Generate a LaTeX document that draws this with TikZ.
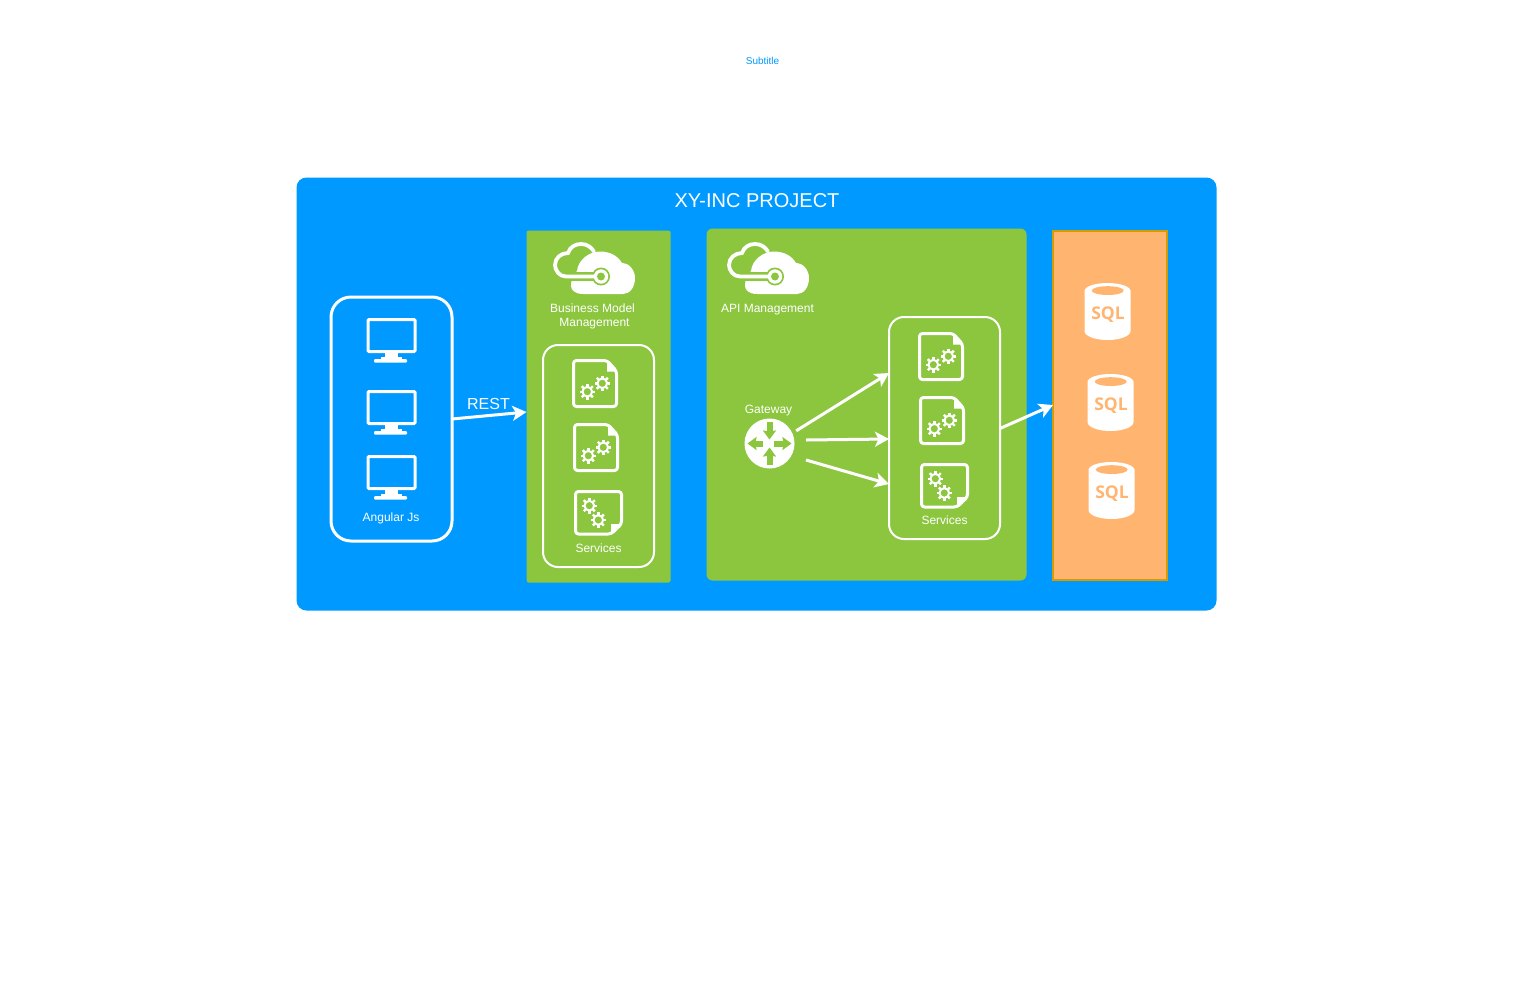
\documentclass[tikz,border=0pt]{standalone}
\usepackage{fontspec}
\setmainfont{Liberation Sans}
\newfontfamily\sqlfont{Open Sans}
\usetikzlibrary{arrows.meta}
\definecolor{xyblue}{HTML}{0099FF}
\definecolor{xygreen}{HTML}{8CC63F}
\definecolor{xyorange}{HTML}{FFB570}
\definecolor{xyedge}{HTML}{D79B00}
\tikzset{
  panel/.style={rectangle,outer sep=0pt,inner sep=0pt,anchor=north west},
  txt/.style={text=white,inner sep=0pt,align=center,font=\fontsize{12}{14}\selectfont},
  flow/.style={white,line width=3pt,-{Stealth[length=14pt,width=15pt,inset=3.5pt]},shorten >=0pt},
  wbox/.style={panel,draw=white,fill=none},
}
\newcommand{\xygear}[2]{%
  \begin{scope}[shift={(#1,#2)}]
    \draw[white,line width=2pt] (0,0) circle[radius=4.8];
    \foreach \a in {0,45,...,315}{\draw[white,line width=2.4pt] (\a:5.2) -- (\a:7.8);}
  \end{scope}}
\newcommand{\xydocA}[2]{%
  \begin{scope}[shift={(#1,#2)}]
    \draw[white,line width=3pt,rounded corners=3pt,line join=round] (1.5,1.5) -- (35,1.5) -- (44.5,12) -- (44.5,47.5) -- (1.5,47.5) -- cycle;
    \fill[white] (35,1.5) -- (45,12.5) -- (35,12.5) -- cycle;
    \xygear{15.3}{32.7}\xygear{30.3}{24.3}
  \end{scope}}
\newcommand{\xydocB}[2]{%
  \begin{scope}[shift={(#1,#2)}]
    \draw[white,line width=3pt,rounded corners=3pt,line join=round] (1.5,1.5) -- (47.5,1.5) -- (47.5,34) -- (37,44) -- (1.5,44) -- cycle;
    \fill[white] (47.5,34) -- (37,44.5) -- (37,34) -- cycle;
    \xygear{15.3}{15.7}\xygear{24.3}{30}
  \end{scope}}
\newcommand{\xyscreen}[2]{%
  \begin{scope}[shift={(#1,#2)}]
    \draw[white,line width=3pt,rounded corners=1pt] (1.5,1.5) rectangle (48.5,33.5);
    \fill[white] (18,34) rectangle (31,40);
    \fill[white,rounded corners=1pt] (7.5,41) rectangle (40.5,44.5);
    \fill[white] (14,38.5) rectangle (35,41.5);
  \end{scope}}
\newcommand{\xycloud}[2]{%
  \begin{scope}[shift={(#1,#2)}]
    \fill[white] (30.3,52) .. controls (22,52) and (18,48) .. (18,44)
      .. controls (18,37) and (20,33) .. (24,29)
      .. controls (25,18) and (36,9.5) .. (47,9.5)
      .. controls (57,9.5) and (65,14) .. (68.7,20.7)
      .. controls (76,21) and (82,28) .. (82,36)
      .. controls (82,45) and (77,52) .. (70,52) -- cycle;
    \draw[xygreen,line width=8.5pt] (15,34.5) -- (48,34.5);
    \fill[xygreen] (48,34.5) circle[radius=9];
    \draw[white,line width=3.8pt,line cap=round] (48,34.5) -- (13,34.5)
      .. controls (6,34.5) and (2,28) .. (2,23)
      .. controls (2,16) and (8,11) .. (15,11)
      .. controls (17,5) and (22,2) .. (28,2)
      .. controls (34,2) and (38,5) .. (41,9.5);
    \fill[white] (48,34.5) circle[radius=7.2];
    \fill[xygreen] (48,34.5) circle[radius=4];
  \end{scope}}
\newcommand{\xydb}[2]{%
  \begin{scope}[shift={(#1,#2)}]
    \fill[white] (0,8) arc[start angle=180,end angle=360,x radius=23,y radius=8]
      -- (46,48) arc[start angle=0,end angle=180,x radius=23,y radius=9] -- cycle;
    \fill[xyorange] (23.2,7.6) ellipse[x radius=16,y radius=4.4];
    \node[inner sep=0pt,text=xyorange,font=\sqlfont\bfseries\fontsize{17.5}{17.5}\selectfont] (sql#1) at (23.5,32) {SQL};
  \end{scope}}
\begin{document}
\begin{tikzpicture}[x=1pt,y=-1pt]
\useasboundingbox (0,0) rectangle (1528,983);
\fill[white] (0,0) rectangle (1528,983);
\node[inner sep=0pt,text=xyblue,font=\fontsize{10}{12}\selectfont] (subtitle) at (762.5,60.5) {Subtitle};
\node[panel,fill=xyblue,rounded corners=10pt,minimum width=920pt,minimum height=433pt] (main) at (296.5,177.5) {};
\node[txt,font=\fontsize{20}{24}\selectfont] (title) at (757,201) {XY-INC PROJECT};
% panels
\node[panel,fill=xygreen,rounded corners=2pt,minimum width=144pt,minimum height=352pt] (bmm) at (526.5,230.5) {};
\node[panel,fill=xygreen,rounded corners=6pt,minimum width=320pt,minimum height=352pt] (api) at (706.5,228.5) {};
\node[panel,fill=xyorange,draw=xyedge,line width=1.6pt,minimum width=114pt,minimum height=349pt] (db) at (1053,231) {};
\node[wbox,line width=3pt,rounded corners=20pt,minimum width=121pt,minimum height=244pt] (angular) at (331,297) {};
\node[wbox,line width=2pt,rounded corners=15pt,minimum width=111pt,minimum height=222pt] (svcb) at (543,345) {};
\node[wbox,line width=2pt,rounded corners=15pt,minimum width=111pt,minimum height=222pt] (svca) at (889,317) {};
% screens
\xyscreen{366.5}{318}\xyscreen{366.5}{390}\xyscreen{366.5}{455}
\node[txt] (angtxt) at (391,518) {Angular Js};
% clouds
\xycloud{553}{242}\xycloud{727}{242}
\node[txt] (bmmtxt) at (592.5,316) {Business Model\\\hspace*{4pt}Management};
\node[txt] (apitxt) at (767.5,309.5) {API Management};
% documents
\xydocA{572}{359}\xydocA{573}{423}\xydocB{574}{490}
\xydocA{918}{332}\xydocA{919}{396}\xydocB{920}{463}
\node[txt] (svcbtxt) at (598.5,548) {Services};
\node[txt] (svcatxt) at (944.5,520) {Services};
% gateway
\node[txt] (gwtxt) at (768.5,411) {Gateway};
\node[circle,fill=white,minimum size=50pt,inner sep=0pt,outer sep=0pt] (gw) at (769.5,443.5) {};
\begin{scope}[xygreen,line width=6pt,-{Stealth[length=9pt,width=13pt,inset=1pt]}]
  \draw ([yshift=21.5pt]gw.center) -- ([yshift=4pt]gw.center);
  \draw ([yshift=-21pt]gw.center) -- ([yshift=-4pt]gw.center);
  \draw ([xshift=-6.5pt]gw.center) -- ([xshift=-22pt]gw.center);
  \draw ([xshift=4.5pt]gw.center) -- ([xshift=22pt]gw.center);
\end{scope}
% databases
\xydb{1084.5}{283}\xydb{1087.5}{374}\xydb{1088.5}{462}
% connectors
\draw[flow] (angular.east) -- ([yshift=-5.5pt]bmm.west);
\node[txt,font=\fontsize{16}{18}\selectfont] (rest) at (488.5,404) {REST};
\draw[flow] ([xshift=9pt,yshift=-5pt]gw.north east) -- ([yshift=55pt]svca.west);
\draw[flow] ([xshift=11.5pt,yshift=3.5pt]gw.east) -- ([yshift=-11pt]svca.west);
\draw[flow] ([xshift=11.5pt,yshift=-16.5pt]gw.east) -- ([yshift=-56pt]svca.west);
\draw[flow] ([yshift=-0.5pt]svca.east) -- ([yshift=0.5pt]db.west);
\end{tikzpicture}
\end{document}
